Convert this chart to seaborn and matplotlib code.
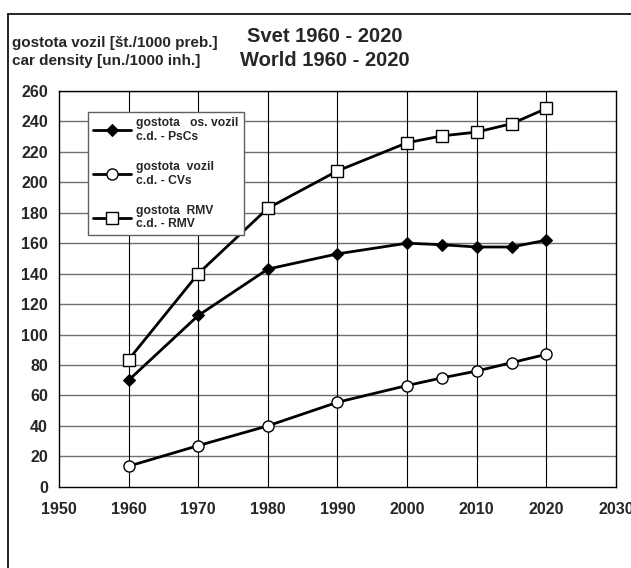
import matplotlib
matplotlib.use("Agg")
import matplotlib.pyplot as plt
import matplotlib.lines as mlines
import numpy as np
import pandas as pd
import seaborn as sns

years = [1960, 1970, 1980, 1990, 2000, 2005, 2010, 2015, 2020]
pscs = [70, 112.5, 143, 153, 160, 159, 157.5, 157.5, 162]
cvs = [13.5, 27, 40, 55.5, 66.5, 71.5, 76, 81.5, 87]
rmv = [83.5, 140, 183, 207.5, 226, 230.5, 233, 238.5, 248.5]

labels = ['gostota   os. vozil\nc.d. - PsCs',
          'gostota  vozil\nc.d. - CVs',
          'gostota  RMV\nc.d. - RMV']

sns.set_style("white")
plt.rcParams['font.family'] = ['Liberation Sans', 'DejaVu Sans']
plt.rcParams['font.weight'] = 'bold'

fig = plt.figure(figsize=(6.31, 5.68), dpi=100)
ax = fig.add_axes([0.0935, 0.1431, 0.8827, 0.6967])

df = pd.DataFrame({'year': years, 'pscs': pscs, 'cvs': cvs, 'rmv': rmv})

sns.lineplot(data=df, x='year', y='pscs', ax=ax, color='black', lw=2,
             marker='D', markersize=6, markerfacecolor='black',
             markeredgecolor='black', label=labels[0])
sns.lineplot(data=df, x='year', y='cvs', ax=ax, color='black', lw=2,
             marker='o', markersize=8, markerfacecolor='white',
             markeredgecolor='black', markeredgewidth=1, label=labels[1])
sns.lineplot(data=df, x='year', y='rmv', ax=ax, color='black', lw=2,
             marker='s', markersize=8, markerfacecolor='white',
             markeredgecolor='black', markeredgewidth=1, label=labels[2])

ax.set_xlim(1950, 2030)
ax.set_ylim(0, 260)
ax.set_xticks(np.arange(1950, 2031, 10))
ax.set_yticks(np.arange(0, 261, 20))
ax.set_xlabel('')
ax.set_ylabel('')
for y in np.arange(20, 261, 20):
    ax.axhline(y, color='#707070', lw=1.0, zorder=0.5)
for x in np.arange(1960, 2030, 10):
    ax.axvline(x, color='black', lw=0.8, zorder=0.5)

for s in ax.spines.values():
    s.set_color('black')
    s.set_linewidth(1.0)
ax.tick_params(axis='both', direction='out', length=5, width=1, color='black',
               labelsize=11.5)
ax.tick_params(axis='y', pad=3)
ax.tick_params(axis='x', pad=6)
for t in ax.get_xticklabels() + ax.get_yticklabels():
    t.set_fontweight('bold')

leg = ax.legend(loc='upper left', bbox_to_anchor=(0.052, 0.947), frameon=True,
                fancybox=False, edgecolor='#606060', framealpha=1,
                prop={'size': 8.7, 'weight': 'bold'}, labelspacing=1.5,
                handlelength=3.2, handletextpad=0.4, borderpad=0.4,
                borderaxespad=0)
leg.get_frame().set_linewidth(1.0)

fig.text(0.019, 0.925, 'gostota vozil [št./1000 preb.]', fontsize=11,
         fontweight='bold', va='center', ha='left')
fig.text(0.019, 0.892, 'car density [un./1000 inh.]', fontsize=11,
         fontweight='bold', va='center', ha='left')
fig.text(0.515, 0.935, 'Svet 1960 - 2020', fontsize=14.5,
         fontweight='bold', va='center', ha='center')
fig.text(0.515, 0.893, 'World 1960 - 2020', fontsize=14.5,
         fontweight='bold', va='center', ha='center')

fig.add_artist(mlines.Line2D([0.0127, 0.0127], [0.0, 0.975], color='black',
                             lw=1.2, transform=fig.transFigure))
fig.add_artist(mlines.Line2D([0.0127, 1.0], [0.975, 0.975], color='black',
                             lw=1.2, transform=fig.transFigure))

fig.savefig('out.png', dpi=100)
